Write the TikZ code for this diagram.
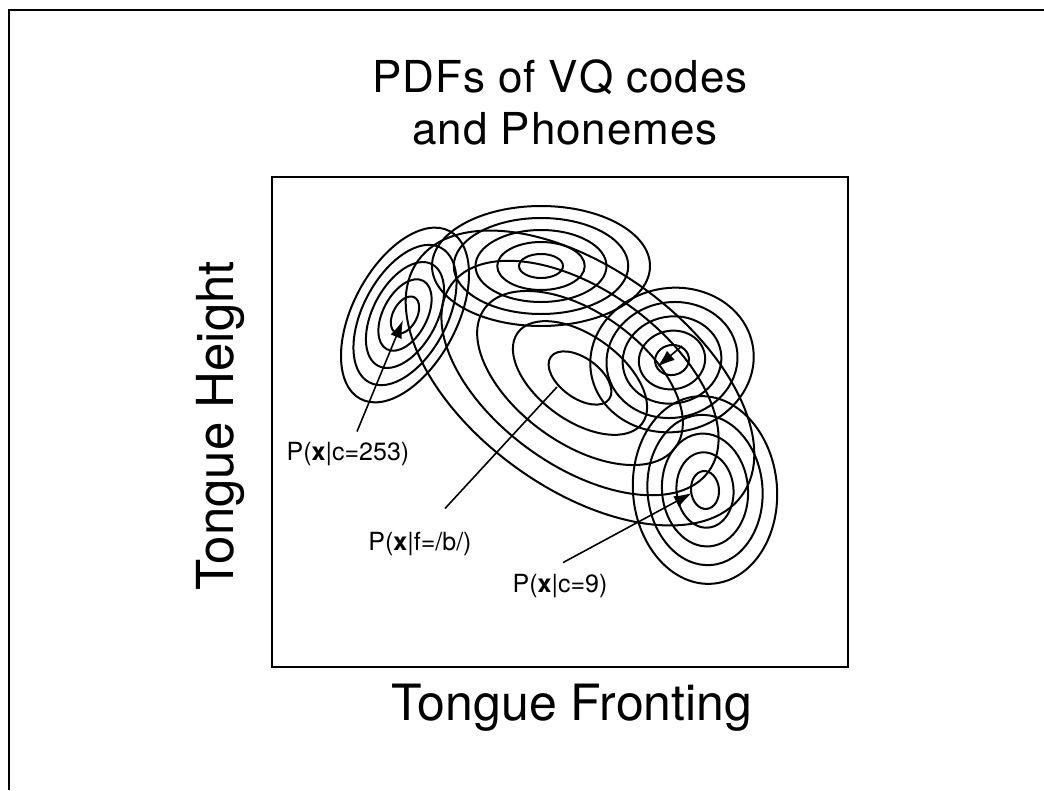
\documentclass[tikz,border=0pt]{standalone}
\usepackage{fontspec}
\setmainfont{TeX Gyre Heros}
\newfontfamily\titlefont[LetterSpace=2]{TeX Gyre Heros}
\usetikzlibrary{arrows.meta}

\begin{document}
\begin{tikzpicture}[x=1pt,y=-1pt,
  ring/.style={line width=2pt},
  frame/.style={line width=2.4pt},
  leader/.style={line width=1.6pt,-{Latex[length=18pt,width=12pt]}},
  plainleader/.style={line width=1.6pt},
  lbl/.style={font=\fontsize{25}{30}\selectfont,inner sep=2pt,anchor=base},
]
\useasboundingbox (0,0) rectangle (1044,790);

% outer frame (left and top edges)
\draw[frame] (9,790) -- (9,10) -- (1044,10);

% plot area
\draw[frame] (272,177) rectangle (848,667);

% titles and axis labels
\node[font=\titlefont\fontsize{44}{52}\selectfont, anchor=base] (title1) at (560,92) {PDFs of VQ codes};
\node[font=\titlefont\fontsize{44}{52}\selectfont, anchor=base] (title2) at (565,144) {and Phonemes};
\node[font=\fontsize{50}{60}\selectfont, anchor=base] (xlab) at (572,720) {Tongue Fronting};
\node[font=\fontsize{51}{60}\selectfont, anchor=base, rotate=90] (ylab) at (233,426) {Tongue Height};

% contour rings of the code c=253
\foreach \k in {0,...,4}
  \draw[ring, rotate around={62:(405,315)}] (405,315)
    ellipse [x radius={20+18.75*\k}, y radius={12+10*\k}];

% contour rings of the upper code
\foreach \k in {0,...,4}
  \draw[ring] (541,266) ellipse [x radius={22+21.75*\k}, y radius={12+12*\k}];

% contour rings of the right code
\foreach \k in {0,...,4}
  \draw[ring, rotate around={10:(672,360)}] (672,360)
    ellipse [x radius={17+16.25*\k}, y radius={15+14.25*\k}];

% contour rings of the code c=9
\foreach \k in {0,...,4}
  \draw[ring, rotate around={5:(705,490)}] (705,490)
    ellipse [x radius={14+14.5*\k}, y radius={19+18.75*\k}];

% contour rings of the phoneme /b/
\foreach \k in {0,...,4}
  \draw[ring, rotate around={-36:(580,378)}] (580,378)
    ellipse [x radius={36+41*\k}, y radius={20+22.5*\k}];

% labels
\node[lbl] (l253) at (348,460) {P(\textbf{x}|c=253)};
\node[lbl] (lb) at (420,550) {P(\textbf{x}|f=/b/)};
\node[lbl] (l9) at (560,592) {P(\textbf{x}|c=9)};

% leader targets
\coordinate (c253) at (403,320);
\coordinate (cb) at (557,387);
\coordinate (c9) at (692,493);
\coordinate (crm) at (657,367);
\coordinate (crmtail) at (682,346);

% leaders
\draw[leader] ([xshift=9pt,yshift=8pt]l253.north) -- (c253);
\draw[plainleader] ([xshift=25pt,yshift=21pt]lb.north) -- (cb);
\draw[leader] ([xshift=3pt,yshift=9pt]l9.north) -- (c9);
\draw[leader] (crmtail) -- (crm);
\end{tikzpicture}
\end{document}
